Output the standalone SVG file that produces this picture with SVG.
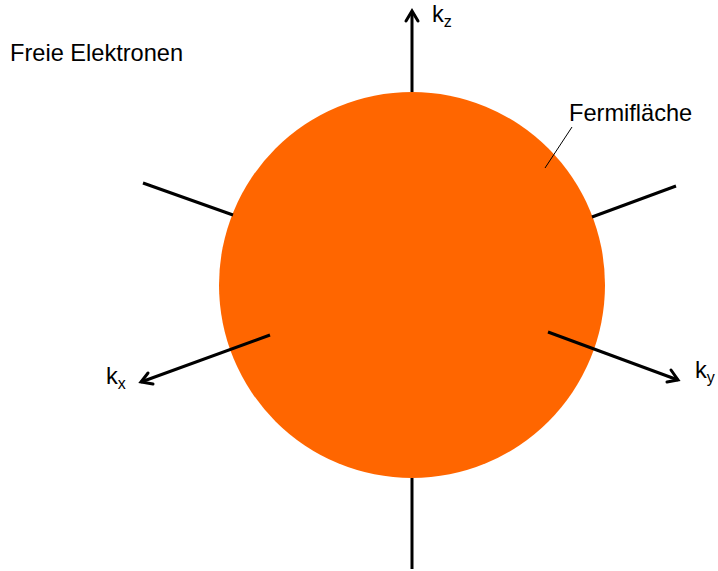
<svg xmlns="http://www.w3.org/2000/svg" width="718" height="571" viewBox="0 0 718 571">
<style>
.t{font-family:"Liberation Sans",Arial,sans-serif;font-size:23.6px;fill:#000}
.s{font-size:16px}
.ax{stroke:#000;stroke-width:3;fill:none}
.ah{stroke:#000;stroke-width:3;fill:none;stroke-linecap:round;stroke-linejoin:miter}
</style>
<rect width="718" height="571" fill="#fff"/>
<g id="sphere"><circle cx="412" cy="285" r="193" fill="#FF6600"/></g>
<g id="connectors">
<line class="ax" x1="412" y1="92" x2="412" y2="12"/>
<polyline class="ah" points="406,21 412,11 418,21"/>
<line class="ax" x1="412" y1="478" x2="412" y2="569"/>
<line class="ax" x1="270" y1="335" x2="141" y2="382"/>
<polyline class="ah" points="148,373 141,382 153,384"/>
<line class="ax" x1="548" y1="332" x2="678" y2="380"/>
<polyline class="ah" points="671,370 678,380 667,382"/>
<line class="ax" x1="143" y1="183" x2="233" y2="215"/>
<line class="ax" x1="676" y1="186" x2="592" y2="217"/>
<line stroke="#000" stroke-width="1" x1="572" y1="127" x2="545" y2="168"/>
</g>
<g id="labels">
<text class="t" x="10" y="60.5">Freie Elektronen</text>
<text class="t" x="569" y="120.5">Fermifläche</text>
<text class="t" x="432" y="22">k<tspan class="s" dy="5">z</tspan></text>
<text class="t" x="106" y="384">k<tspan class="s" dy="5">x</tspan></text>
<text class="t" x="695" y="378">k<tspan class="s" dy="5">y</tspan></text>
</g>
</svg>
